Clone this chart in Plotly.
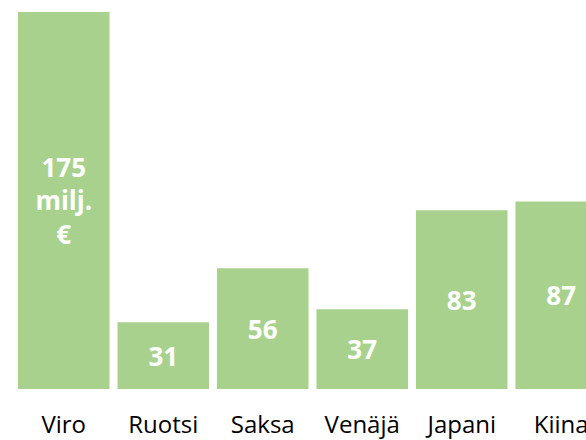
import plotly.graph_objects as go

categories = ["Viro", "Ruotsi", "Saksa", "Venäjä", "Japani", "Kiina"]
values = [175, 31, 56, 37, 83, 87]
labels = ["175<br>milj.<br>€", "31", "56", "37", "83", "87"]

fig = go.Figure(
    go.Bar(
        x=categories,
        y=values,
        text=labels,
        textposition="inside",
        insidetextanchor="middle",
        textangle=0,
        constraintext="none",
        textfont=dict(family="Open Sans", size=26, color="white", weight="bold"),
        marker=dict(color="#A9D18E", line=dict(width=0)),
        hoverinfo="skip",
    )
)

fig.update_layout(
    width=586,
    height=440,
    margin=dict(l=14, r=0, t=12, b=51),
    paper_bgcolor="white",
    plot_bgcolor="white",
    bargap=0.08,
    showlegend=False,
    font=dict(family="Open Sans", color="black"),
)
fig.update_xaxes(
    range=[-0.5, 5.249],
    showgrid=False,
    showline=False,
    zeroline=False,
    ticks="",
    ticklabelstandoff=19,
    tickfont=dict(family="Open Sans", size=24, color="black"),
    automargin=False,
    fixedrange=True,
)
fig.update_yaxes(
    range=[0, 175],
    visible=False,
    showgrid=False,
    zeroline=False,
    automargin=False,
    fixedrange=True,
)

fig.write_html(
    "out.html",
    config={"displayModeBar": False},
    post_script="document.body.style.margin='0';document.body.style.overflow='hidden';",
)
